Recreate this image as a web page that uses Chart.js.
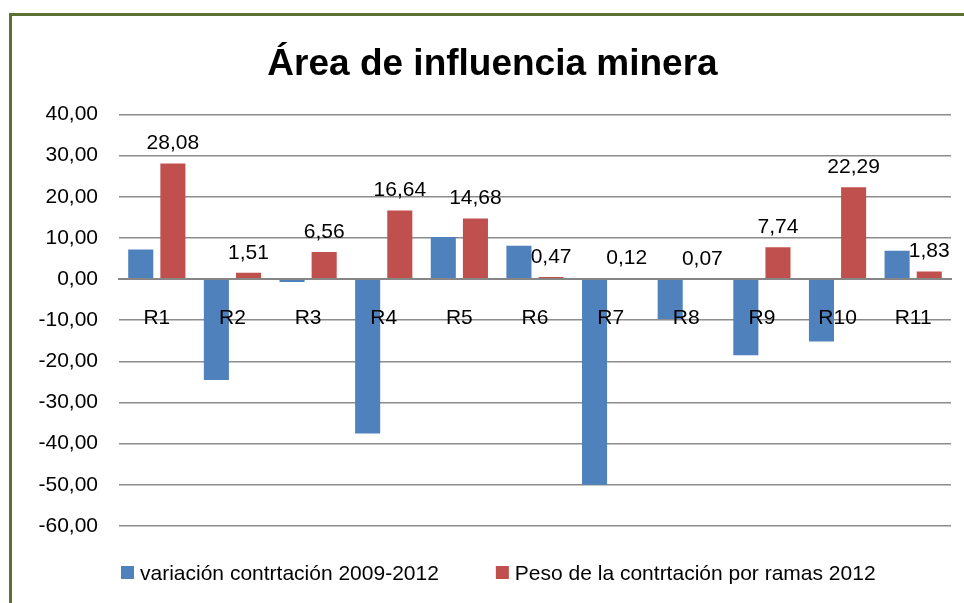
<!DOCTYPE html>
<html>
<head>
<meta charset="utf-8">
<script src="https://cdn.jsdelivr.net/npm/chart.js@4"></script>
<style>
  html, body { margin: 0; padding: 0; background: #fff; overflow: hidden; }
  #wrap { position: relative; width: 964px; height: 603px; }
  #frame {
    position: absolute; left: 9px; top: 13px; width: 1000px; height: 700px;
    border-left: 3px solid #5d7132; border-top: 3px solid #5d7132;
    pointer-events: none;
  }
</style>
</head>
<body>
<div id="wrap">
  <canvas id="myChart" width="964" height="603"></canvas>
  <div id="frame"></div>
</div>
<script>
const categories = ["R1", "R2", "R3", "R4", "R5", "R6", "R7", "R8", "R9", "R10", "R11"];
const variacion = [7.2, -24.5, -0.7, -37.5, 10.2, 8.1, -50.0, -9.7, -18.5, -15.2, 6.9];
const peso = [28.08, 1.51, 6.56, 16.64, 14.68, 0.47, 0.12, 0.07, 7.74, 22.29, 1.83];
const seriesNames = ["variación contrtación 2009-2012", "Peso de la contrtación por ramas 2012"];
const yTicks = [40, 30, 20, 10, 0, -10, -20, -30, -40, -50, -60];

const FONT = "'Liberation Sans', Arial, sans-serif";
const fmt = v => v.toFixed(2).replace(".", ",");

// value labels above the red bars
const valueLabels = {
  id: "valueLabels",
  afterDatasetsDraw(chart) {
    const ctx = chart.ctx;
    const meta = chart.getDatasetMeta(1);
    ctx.save();
    ctx.font = "21px " + FONT;
    ctx.fillStyle = "#000";
    ctx.textAlign = "center";
    ctx.textBaseline = "middle";
    meta.data.forEach((bar, i) => {
      ctx.fillText(fmt(peso[i]), bar.x, bar.y - 20);
    });
    ctx.restore();
  }
};

// legend like the spreadsheet one (small squares, wide gap)
const bottomLegend = {
  id: "bottomLegend",
  afterDraw(chart) {
    const ctx = chart.ctx;
    ctx.save();
    ctx.font = "21px " + FONT;
    ctx.textBaseline = "middle";
    let x = 121;
    chart.data.datasets.forEach(ds => {
      ctx.fillStyle = ds.backgroundColor;
      ctx.fillRect(x, 566, 13, 13);
      ctx.fillStyle = "#000";
      ctx.textAlign = "left";
      ctx.fillText(ds.label, x + 19, 574);
      x += 19 + ctx.measureText(ds.label).width + 57;
    });
    ctx.restore();
  }
};

new Chart(document.getElementById("myChart").getContext("2d"), {
  type: "bar",
  data: {
    labels: categories,
    datasets: [
      {
        label: seriesNames[0],
        data: variacion,
        backgroundColor: "#4f81bd",
        categoryPercentage: 0.85,
        barPercentage: 0.78
      },
      {
        label: seriesNames[1],
        data: peso,
        backgroundColor: "#c0504d",
        categoryPercentage: 0.85,
        barPercentage: 0.78
      }
    ]
  },
  options: {
    responsive: false,
    animation: false,
    layout: { padding: { left: 34, right: 13, top: 0, bottom: 77 } },
    plugins: {
      legend: { display: false },
      tooltip: { enabled: false },
      title: {
        display: true,
        text: "Área de influencia minera",
        color: "#000",
        font: { family: FONT, size: 37, weight: "bold" },
        padding: { top: 43, bottom: 27 }
      }
    },
    scales: {
      x: {
        position: { y: 0 },
        grid: { display: false, drawTicks: false },
        border: { display: true, color: "#868686", width: 2, z: 1 },
        ticks: { z: 1, color: "#000", font: { family: FONT, size: 21 }, padding: 27, maxRotation: 0 }
      },
      y: {
        min: -60,
        max: 40,
        afterFit(scale) { scale.width = 85; },
        afterBuildTicks(scale) { scale.ticks = yTicks.map(v => ({ value: v })); },
        grid: { color: "#8c8c8c", lineWidth: 1.5, drawTicks: false },
        border: { display: false },
        ticks: {
          color: "#000",
          font: { family: FONT, size: 21 },
          padding: 21,
          callback: v => fmt(v)
        }
      }
    }
  },
  plugins: [valueLabels, bottomLegend]
});
</script>
</body>
</html>
